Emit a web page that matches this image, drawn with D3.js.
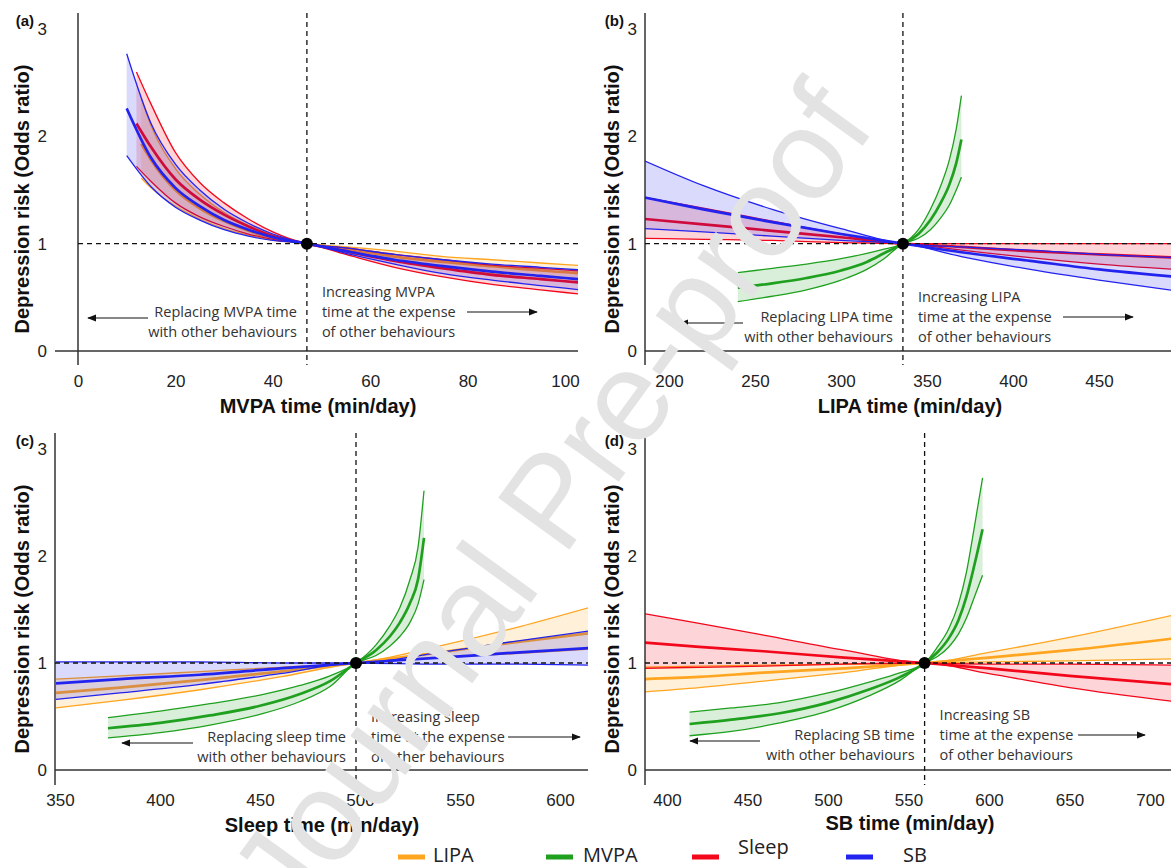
<!DOCTYPE html>
<html>
<head>
<meta charset="utf-8">
<script src="https://cdnjs.cloudflare.com/ajax/libs/d3/7.8.5/d3.min.js"></script>
<style>
body { margin: 0; background: #fff; }
svg { display: block; }
.tick text { font-family: "Liberation Sans", Arial, sans-serif; font-size: 17px; fill: #222; }
.note { font-family: "Open Sans", sans-serif; font-size: 14.5px; fill: #333; }
.atitle { font-family: "Liberation Sans", Arial, sans-serif; font-weight: bold; font-size: 20px; fill: #111; }
.plabel { font-family: "Liberation Sans", Arial, sans-serif; font-weight: bold; font-size: 15px; fill: #111; }
.legend { font-family: "Open Sans", sans-serif; font-size: 20px; fill: #222; }
</style>
</head>
<body>
<div id="chart"></div>
<script>
//
// Isotemporal substitution curves, depression risk (odds ratio)
// rows are [time, lower CI, odds ratio, upper CI]
//

var behaviours = ["LIPA", "MVPA", "Sleep", "SB"];
var yTicks = [0, 1, 2, 3];

// (a) MVPA time
var aTicks = [0, 20, 40, 60, 80, 100];
var aRef = 47;
var a_LIPA = [[13,1.61,1.93,2.35],[15,1.52,1.78,2.10],[20,1.35,1.50,1.70],[25,1.23,1.33,1.46],[30,1.14,1.21,1.29],[35,1.08,1.12,1.17],[40,1.03,1.05,1.08],[47,1,1,1],[55,0.92,0.95,0.97],[65,0.84,0.88,0.93],[75,0.77,0.83,0.88],[85,0.72,0.79,0.85],[95,0.67,0.75,0.82],[105,0.63,0.72,0.79]];
var a_Sleep = [[12,1.72,2.12,2.60],[15,1.58,1.90,2.30],[20,1.38,1.60,1.85],[25,1.25,1.41,1.57],[30,1.16,1.27,1.38],[35,1.09,1.16,1.23],[40,1.04,1.07,1.11],[47,1,1,1],[55,0.90,0.93,0.96],[65,0.78,0.84,0.90],[75,0.69,0.77,0.85],[85,0.62,0.71,0.80],[95,0.57,0.67,0.77],[105,0.52,0.63,0.74]];
var a_SB = [[10,1.82,2.26,2.77],[15,1.53,1.80,2.12],[20,1.34,1.52,1.74],[25,1.22,1.35,1.50],[30,1.13,1.22,1.32],[35,1.07,1.13,1.19],[40,1.03,1.06,1.09],[47,1,1,1],[55,0.91,0.93,0.96],[65,0.81,0.85,0.90],[75,0.72,0.79,0.85],[85,0.66,0.74,0.81],[95,0.61,0.70,0.78],[105,0.56,0.66,0.75]];

// (b) LIPA time
var bTicks = [200, 250, 300, 350, 400, 450];
var bRef = 336;
var b_MVPA = [[240,0.46,0.59,0.73],[260,0.51,0.63,0.77],[280,0.57,0.68,0.81],[300,0.66,0.75,0.86],[315,0.76,0.83,0.91],[325,0.86,0.91,0.95],[336,1,1,1],[345,1.05,1.09,1.13],[352,1.13,1.22,1.32],[358,1.24,1.38,1.54],[363,1.36,1.55,1.78],[367,1.50,1.75,2.07],[370,1.62,1.97,2.38]];
var b_Sleep = [[186,1.05,1.23,1.43],[220,1.04,1.18,1.33],[260,1.03,1.12,1.21],[300,1.01,1.06,1.09],[336,1,1,1],[370,0.94,0.97,1.00],[410,0.87,0.93,1.00],[450,0.81,0.90,1.00],[495,0.76,0.87,1.00]];
var b_SB = [[186,1.14,1.43,1.77],[220,1.11,1.32,1.54],[260,1.07,1.20,1.32],[300,1.03,1.09,1.14],[336,1,1,1],[370,0.88,0.92,0.97],[410,0.76,0.84,0.94],[450,0.66,0.76,0.90],[495,0.56,0.69,0.87]];

// (c) Sleep time
var cTicks = [350, 400, 450, 500, 550, 600];
var cRef = 498;
var c_LIPA = [[348,0.58,0.72,0.85],[380,0.65,0.77,0.88],[420,0.75,0.84,0.92],[460,0.87,0.92,0.96],[498,1,1,1],[540,1.05,1.10,1.16],[580,1.09,1.20,1.34],[615,1.13,1.28,1.52]];
var c_MVPA = [[374,0.30,0.39,0.49],[400,0.35,0.44,0.55],[425,0.42,0.51,0.62],[450,0.52,0.60,0.70],[470,0.64,0.71,0.79],[485,0.78,0.83,0.88],[498,1,1,1],[508,1.07,1.12,1.17],[515,1.16,1.25,1.35],[520,1.25,1.38,1.52],[525,1.38,1.56,1.78],[529,1.55,1.78,2.08],[532,1.78,2.17,2.61]];
var c_SB = [[348,0.66,0.81,1.01],[380,0.72,0.85,1.01],[420,0.80,0.89,1.01],[460,0.90,0.95,1.00],[498,1,1,1],[540,0.99,1.05,1.10],[580,0.99,1.10,1.21],[615,0.98,1.14,1.30]];

// (d) SB time
var dTicks = [400, 450, 500, 550, 600, 650, 700];
var dRef = 560;
var d_LIPA = [[386,0.73,0.85,0.96],[420,0.77,0.87,0.97],[460,0.83,0.91,0.98],[510,0.91,0.95,0.99],[560,1,1,1],[600,1.01,1.05,1.10],[650,1.02,1.12,1.24],[715,1.04,1.23,1.45]];
var d_MVPA = [[414,0.32,0.43,0.54],[440,0.36,0.47,0.58],[470,0.44,0.53,0.63],[500,0.55,0.63,0.72],[525,0.69,0.75,0.82],[545,0.84,0.87,0.91],[560,1,1,1],[568,1.06,1.10,1.15],[575,1.15,1.23,1.32],[581,1.27,1.40,1.55],[586,1.42,1.62,1.85],[591,1.62,1.92,2.28],[596,1.82,2.25,2.73]];
var d_Sleep = [[386,0.95,1.19,1.46],[420,0.96,1.15,1.37],[460,0.97,1.11,1.26],[510,0.99,1.05,1.12],[560,1,1,1],[600,0.90,0.95,0.99],[650,0.77,0.88,0.99],[715,0.64,0.80,0.98]];

var width = 1171, height = 868;

var color = d3.scaleOrdinal()
	.domain(behaviours)
	.range(["#ffa51f", "#1fa01f", "#f2071b", "#2323f0"]);

// panel layout (pixels)
var panels = [
	{label: "(a)", name: "MVPA", ticks: aTicks, ref: aRef, dom: [0, 100], rng: [78, 565], box: [55, 578], axisX: 78,
	 y0: 351, y3: 29, top: 13, bottom: 365, noteY: 292, arrL: [148, 88], arrR: [467, 537], titleX: 318, titleY: 413, ytitleX: 22,
	 series: [["LIPA", a_LIPA], ["Sleep", a_Sleep], ["SB", a_SB]]},
	{label: "(b)", name: "LIPA", ticks: bTicks, ref: bRef, dom: [200, 450], rng: [669, 1099], box: [645, 1171], axisX: 645,
	 y0: 351, y3: 29, top: 13, bottom: 365, noteY: 297, arrL: [743, 680], arrR: [1063, 1133], titleX: 910, titleY: 413, ytitleX: 612,
	 series: [["MVPA", b_MVPA], ["Sleep", b_Sleep], ["SB", b_SB]]},
	{label: "(c)", name: "sleep", title: "Sleep", ticks: cTicks, ref: cRef, dom: [350, 600], rng: [60, 560], box: [55, 588], axisX: 55,
	 y0: 770, y3: 449, top: 433, bottom: 785, noteY: 717, arrL: [193, 122], arrR: [508, 580], titleX: 322, titleY: 832, ytitleX: 22,
	 series: [["LIPA", c_LIPA], ["MVPA", c_MVPA], ["SB", c_SB]]},
	{label: "(d)", name: "SB", ticks: dTicks, ref: dRef, dom: [400, 700], rng: [667, 1150], box: [645, 1171], axisX: 645,
	 y0: 770, y3: 449, top: 433, bottom: 785, noteY: 715, arrL: [760, 690], arrR: [1078, 1145], titleX: 910, titleY: 830, ytitleX: 612,
	 series: [["LIPA", d_LIPA], ["MVPA", d_MVPA], ["Sleep", d_Sleep]]}
];

var svg = d3.select("#chart").append("svg")
	.attr("width", width)
	.attr("height", height);

var defs = svg.append("defs");
defs.append("marker")
	.attr("id", "arrow")
	.attr("viewBox", "0 0 10 10")
	.attr("refX", 9).attr("refY", 5)
	.attr("markerWidth", 9).attr("markerHeight", 9)
	.attr("markerUnits", "userSpaceOnUse")
	.attr("orient", "auto")
	.append("path")
	.attr("d", "M0,1 L10,5 L0,9 Z")
	.attr("fill", "#111");

panels.forEach(function(p, i) {
	var x = d3.scaleLinear().domain(p.dom).range(p.rng);
	var y = d3.scaleLinear().domain([0, 3]).range([p.y0, p.y3]);
	var g = svg.append("g");

	defs.append("clipPath").attr("id", "clip" + i)
		.append("rect")
		.attr("x", p.box[0]).attr("y", p.top)
		.attr("width", p.box[1] - p.box[0]).attr("height", p.y0 - p.top);

	var plot = g.append("g").attr("clip-path", "url(#clip" + i + ")");

	var area = d3.area().curve(d3.curveMonotoneX)
		.x(function(d) { return x(d[0]); })
		.y0(function(d) { return y(d[1]); })
		.y1(function(d) { return y(d[3]); });

	function line(k) {
		return d3.line().curve(d3.curveMonotoneX)
			.x(function(d) { return x(d[0]); })
			.y(function(d) { return y(d[k]); });
	}

	p.series.forEach(function(s) {
		var c = color(s[0]);
		plot.append("path").datum(s[1])
			.attr("d", area)
			.attr("fill", c)
			.attr("fill-opacity", 0.17);
		[1, 3].forEach(function(k) {
			plot.append("path").datum(s[1])
				.attr("d", line(k))
				.attr("fill", "none")
				.attr("stroke", c)
				.attr("stroke-width", 1.3);
		});
		plot.append("path").datum(s[1])
			.attr("d", line(2))
			.attr("fill", "none")
			.attr("stroke", c)
			.attr("stroke-width", 2.7);
	});

	// axes
	g.append("line")
		.attr("x1", p.box[0]).attr("x2", p.box[1])
		.attr("y1", p.y0).attr("y2", p.y0)
		.attr("stroke", "#333").attr("stroke-width", 1.5);
	g.append("line")
		.attr("x1", p.axisX).attr("x2", p.axisX)
		.attr("y1", p.top).attr("y2", p.bottom)
		.attr("stroke", "#333").attr("stroke-width", 1.5);

	g.append("g")
		.attr("transform", "translate(0," + p.y0 + ")")
		.call(d3.axisBottom(x).tickValues(p.ticks).tickSize(0).tickPadding(24))
		.call(function(a) { a.select(".domain").remove(); });

	g.append("g")
		.attr("transform", "translate(" + p.box[0] + ",0)")
		.call(d3.axisLeft(y).tickValues(yTicks).tickSize(0).tickPadding(8).tickFormat(d3.format("d")))
		.call(function(a) { a.select(".domain").remove(); });

	// reference lines and point
	var rx = x(p.ref), ry = y(1);
	g.append("line")
		.attr("x1", p.axisX).attr("x2", p.box[1])
		.attr("y1", ry).attr("y2", ry)
		.attr("stroke", "#111").attr("stroke-width", 1.3)
		.attr("stroke-dasharray", "5,4");
	g.append("line")
		.attr("x1", rx).attr("x2", rx)
		.attr("y1", p.top).attr("y2", p.bottom)
		.attr("stroke", "#111").attr("stroke-width", 1.3)
		.attr("stroke-dasharray", "5,4");
	g.append("circle")
		.attr("cx", rx).attr("cy", ry).attr("r", 6)
		.attr("fill", "#000");

	// annotations
	var left = g.append("text").attr("class", "note").attr("text-anchor", "end");
	left.append("tspan").attr("x", rx - 10).attr("y", p.noteY + 25).text("Replacing " + p.name + " time");
	left.append("tspan").attr("x", rx - 10).attr("y", p.noteY + 45).text("with other behaviours");

	var right = g.append("text").attr("class", "note");
	right.append("tspan").attr("x", rx + 15).attr("y", p.noteY + 5).text("Increasing " + p.name);
	right.append("tspan").attr("x", rx + 15).attr("y", p.noteY + 25).text("time at the expense");
	right.append("tspan").attr("x", rx + 15).attr("y", p.noteY + 45).text("of other behaviours");

	g.append("line")
		.attr("x1", p.arrL[0]).attr("x2", p.arrL[1])
		.attr("y1", p.noteY + 26).attr("y2", p.noteY + 26)
		.attr("stroke", "#111").attr("stroke-width", 1.2)
		.attr("marker-end", "url(#arrow)");
	g.append("line")
		.attr("x1", p.arrR[0]).attr("x2", p.arrR[1])
		.attr("y1", p.noteY + 20).attr("y2", p.noteY + 20)
		.attr("stroke", "#111").attr("stroke-width", 1.2)
		.attr("marker-end", "url(#arrow)");

	// titles
	g.append("text").attr("class", "atitle")
		.attr("x", p.titleX).attr("y", p.titleY)
		.attr("text-anchor", "middle")
		.text((p.title || p.name) + " time (min/day)");
	g.append("text").attr("class", "atitle")
		.attr("transform", "translate(" + p.ytitleX + "," + ((p.top + p.bottom) / 2 + 10) + ") rotate(-90)")
		.attr("text-anchor", "middle")
		.attr("dy", "0.35em")
		.text("Depression risk (Odds ratio)");
	g.append("text").attr("class", "plabel")
		.attr("x", p.box[0] - 21).attr("y", p.y3 - 3)
		.attr("text-anchor", "end")
		.text(p.label);
});

// legend
var legendX = [398, 546, 692, 846];
var legendTextX = [433, 583, 738, 903];
var legend = svg.append("g");
behaviours.forEach(function(b, i) {
	legend.append("line")
		.attr("x1", legendX[i]).attr("x2", legendX[i] + 27)
		.attr("y1", 857).attr("y2", 857)
		.attr("stroke", color(b)).attr("stroke-width", 5);
	legend.append("text").attr("class", "legend")
		.attr("x", legendTextX[i])
		.attr("y", b == "Sleep" ? 854 : 862)
		.text(b);
});

// watermark
svg.append("text")
	.attr("transform", "translate(550,500) rotate(-54)")
	.attr("text-anchor", "middle")
	.attr("dy", "0.35em")
	.style("font-family", "Liberation Sans, Arial, sans-serif")
	.style("font-size", "128px")
	.attr("fill", "#e3e3e3")
	.text("Journal Pre-proof");
</script>
</body>
</html>
